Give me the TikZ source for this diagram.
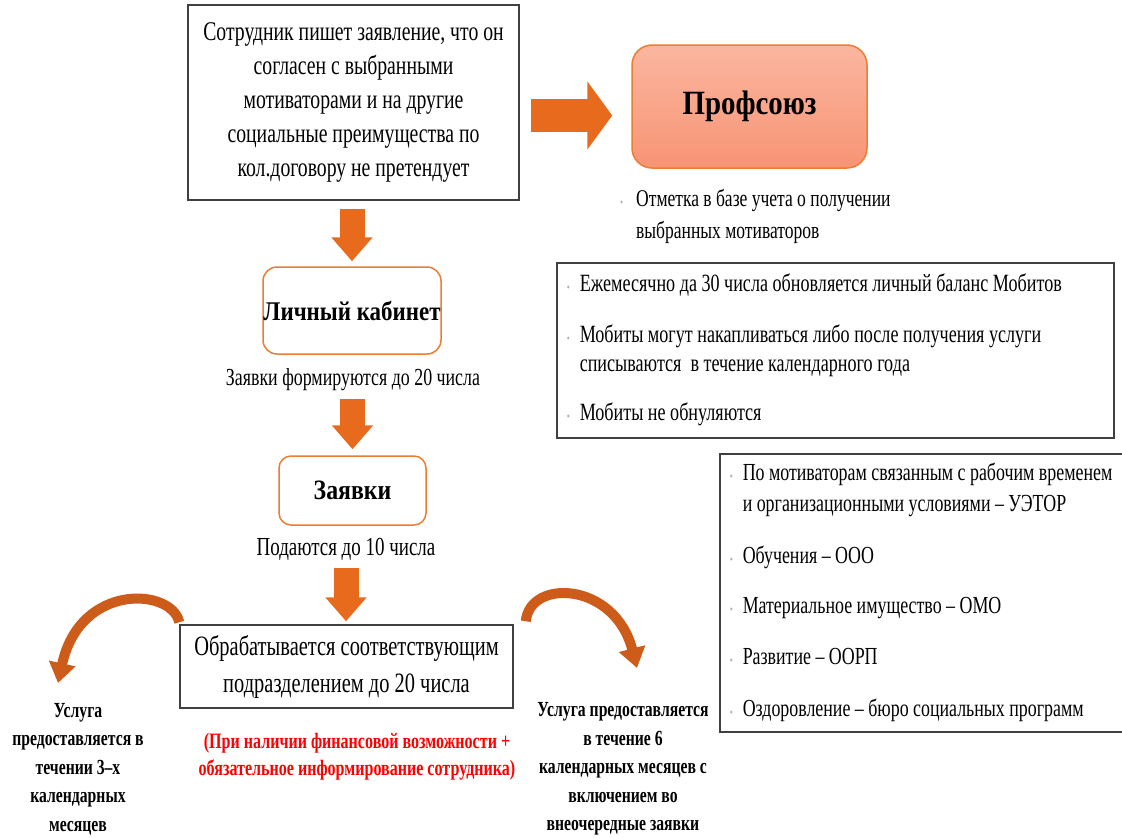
\documentclass[tikz,border=0pt]{standalone}
\usepackage{fontspec}
\setmainfont{Liberation Serif}[FakeStretch=0.73]
\newfontfamily\headfont{Liberation Serif}[FakeStretch=0.85]
\usetikzlibrary{arrows.meta}
\definecolor{boxline}{RGB}{64,64,64}
\definecolor{orline}{RGB}{237,125,49}
\definecolor{orarrow}{RGB}{232,106,28}
\definecolor{orbend}{RGB}{205,92,26}
\definecolor{salmontop}{RGB}{251,182,160}
\definecolor{salmonbot}{RGB}{247,148,116}
\definecolor{bulgray}{RGB}{175,175,175}
\definecolor{alert}{RGB}{255,0,0}
\tikzstyle{plain}=[draw=boxline, line width=1.5pt, fill=white, align=center]
\tikzstyle{round}=[draw=orline, line width=1.5pt, fill=white, rounded corners=14pt, inner xsep=0pt]
\tikzstyle{bigarrow}=[draw=orarrow, line width=25pt, -{Triangle[width=40pt,length=24pt]}]
\tikzstyle{curvearrow}=[draw=orbend, line width=10pt, -{Triangle[width=26pt,length=20pt]}]
\newcommand{\bul}[1][13pt]{\makebox[#1][l]{\textcolor{bulgray}{\fontsize{12}{12}\selectfont\textbullet}}}

\begin{document}
\begin{tikzpicture}[x=1pt, y=-1pt]
    \useasboundingbox (0,0) rectangle (1122,838);
    % main column
    \node[plain, minimum width=331pt, minimum height=195pt,
          font=\fontsize{27}{33.8}\selectfont] (stmt) at (353.5,102.5)
          {Сотрудник пишет заявление, что он\\ согласен с выбранными\\ мотиваторами и на другие\\ социальные преимущества по\\ кол.договору не претендует};
    \node[round, minimum width=178pt, minimum height=87pt,
          font=\headfont\bfseries\fontsize{27}{32}\selectfont] (cab) at (352,310.5) {Личный кабинет};
    \node[font=\fontsize{24.5}{29}\selectfont] (form) at (353,380) {Заявки формируются до 20 числа};
    \node[round, rounded corners=12pt, minimum width=147pt, minimum height=69pt,
          font=\headfont\bfseries\fontsize{28}{32}\selectfont] (req) at (352.5,490.5) {Заявки};
    \node[font=\fontsize{26}{30}\selectfont] (sub) at (346,549) {Подаются до 10 числа};
    \node[plain, minimum width=333pt, minimum height=83pt,
          font=\fontsize{28}{37}\selectfont] (proc) at (346.5,666.5)
          {Обрабатывается соответствующим\\ подразделением до 20 числа};
    \node[text=alert, align=center, font=\bfseries\fontsize{22}{27}\selectfont] (cond) at (357,756.5)
          {(При наличии финансовой возможности +\\ обязательное информирование сотрудника)};
    \node[align=center, font=\bfseries\fontsize{21.5}{28.5}\selectfont] (srv3) at (78,769)
          {Услуга\\ предоставляется в\\ течении 3–х\\ календарных\\ месяцев};
    \node[align=center, font=\bfseries\fontsize{21.5}{28.5}\selectfont] (srv6) at (623,769)
          {Услуга предоставляется\\ в течение 6\\ календарных месяцев с\\ включением во\\ внеочередные заявки};
    % right column
    \node[draw=orline, line width=1.5pt, rounded corners=20pt, top color=salmontop, bottom color=salmonbot,
          minimum width=235pt, minimum height=123pt,
          font=\headfont\bfseries\fontsize{34}{38}\selectfont] (prof) at (749.5,106.5) {Профсоюз};
    \node[anchor=west, align=flush left, inner sep=0pt, font=\fontsize{24}{32}\selectfont] (note) at (620,216)
          {\bul[16pt]Отметка в базе учета о получении\\ \hspace*{16pt}выбранных мотиваторов};
    \node[plain, anchor=north west, align=flush left, inner xsep=10pt, text width=537pt, minimum height=175pt,
          font=\fontsize{24.8}{29}\selectfont] (bal) at (556,262)
          {\bul Ежемесячно да 30 числа обновляется личный баланс Мобитов\\[22pt]
           \bul Мобиты могут накапливаться либо после получения услуги\\
           \hspace*{13pt}списываются\ \ в течение календарного года\\[20pt]
           \bul Мобиты не обнуляются};
    \node[plain, anchor=north west, align=flush left, inner xsep=10pt, text width=440pt, minimum height=278pt,
          font=\fontsize{24.5}{31}\selectfont] (dept) at (719,453)
          {\bul По мотиваторам связанным с рабочим временем\\
           \hspace*{13pt}и организационными условиями – УЭТОР\\[21pt]
           \bul Обучения – ООО\\[19pt]
           \bul Материальное имущество – ОМО\\[20pt]
           \bul Развитие – ООРП\\[21pt]
           \bul Оздоровление – бюро социальных программ};
    % arrows
    \coordinate (ltip) at (58,683);
    \coordinate (rtip) at (637,668);
    \draw[bigarrow, line width=33pt, -{Triangle[width=67pt,length=25pt]}, shorten <=11pt, shorten >=19pt]
        ([yshift=-13pt]stmt.east) -- ([yshift=-13pt]stmt.east -| prof.west);
    \draw[bigarrow, shorten <=8pt, shorten >=5pt] (stmt.south -| cab.north) -- (cab.north);
    \draw[bigarrow, shorten <=4pt, shorten >=6pt] (form.south -| req.north) -- (req.north);
    \draw[bigarrow, shorten <=4pt, shorten >=3pt] (sub.south) -- (sub.south |- proc.north);
    \draw[curvearrow] ([yshift=2pt]proc.north west) .. controls (172,588) and (80,582) .. (ltip);
    \draw[curvearrow] ([xshift=12pt,yshift=3pt]proc.north east) .. controls (530,578) and (615,582) .. (rtip);
\end{tikzpicture}
\end{document}
